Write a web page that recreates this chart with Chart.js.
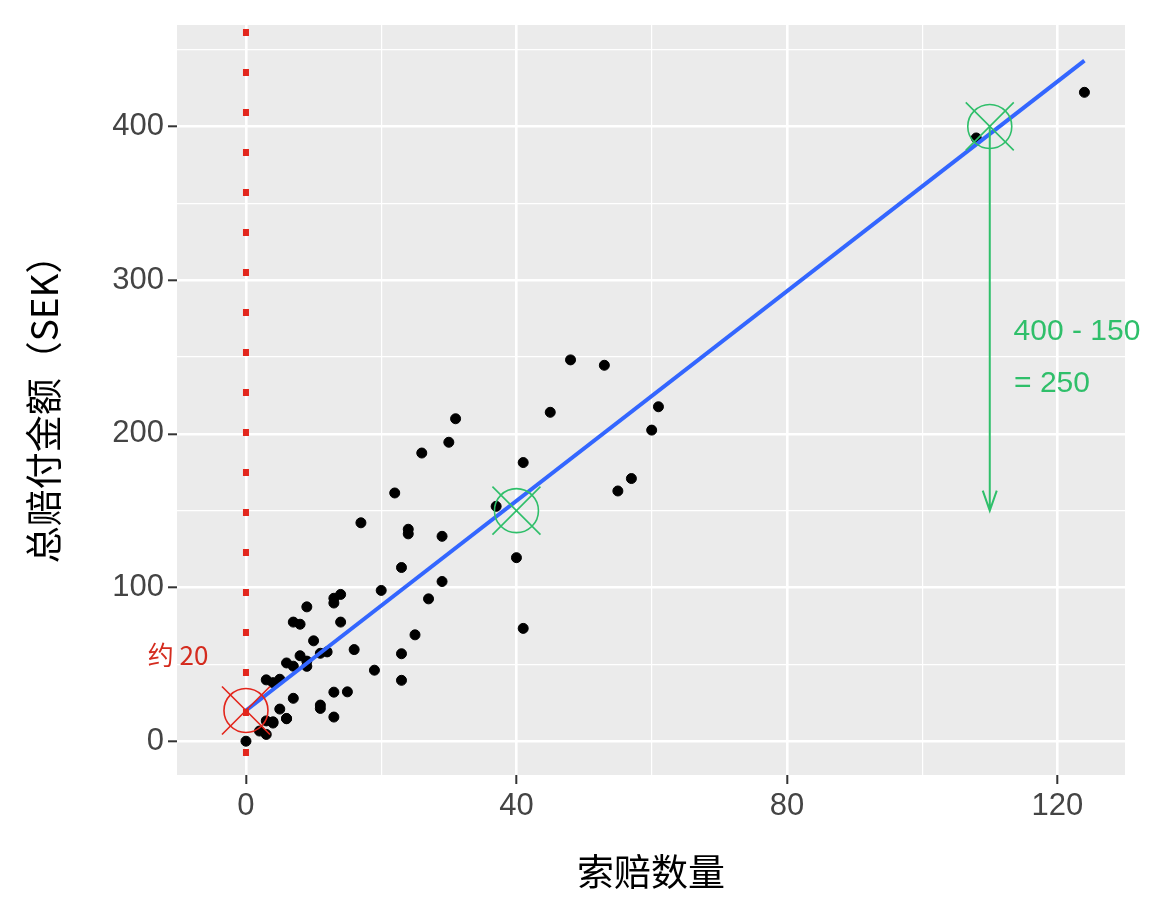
<!DOCTYPE html>
<html><head><meta charset="utf-8">
<script src="https://cdn.jsdelivr.net/npm/chart.js@4/dist/chart.umd.min.js"></script>
<style>html,body{margin:0;padding:0;background:#fff}#w{width:1152px;height:922px}</style>
</head><body><div id="w"><canvas id="c"></canvas></div>
<script>
const claims = [108,19,13,124,40,57,23,14,45,10,5,48,11,23,7,2,24,6,3,23,6,9,9,3,29,7,4,20,7,4,0,25,6,5,22,11,61,12,4,16,13,60,41,37,55,41,11,27,8,3,17,13,13,15,8,29,30,24,9,31,14,53,26];
const payment = [392.5,46.2,15.7,422.2,119.4,170.9,56.9,77.5,214,65.3,20.9,248.1,23.5,39.6,48.8,6.6,134.9,50.9,4.4,113,14.8,48.7,52.1,13.2,103.9,77.5,11.8,98.1,27.9,38.1,0,69.2,14.6,40.3,161.5,57.2,217.6,58.1,12.6,59.6,89.9,202.4,181.3,152.8,162.8,73.4,21.3,92.6,76.1,39.9,142.1,93,31.9,32.1,55.6,133.3,194.5,137.9,87.4,209.8,95.5,244.6,187.5];
const fitLine = [{x:0,y:19.99},{x:124,y:442.8}];
const xTicks = [0,20,40,60,80,100,120];
const yTicks = [-50,0,50,100,150,200,250,300,350,400,450];
const redMark = {x:0,y:20,label:'约 20'};
const greenMarks = [{x:40,y:150},{x:110,y:400}];
const arrow = {x:110,from:400,to:150,lines:['400 - 150','= 250']};

const ann = {id:'ann', afterDatasetsDraw(ch){
  const c=ch.ctx,xs=ch.scales.x,ys=ch.scales.y,a=ch.chartArea;
  c.save();
  c.strokeStyle='#e3261c';c.lineWidth=6;c.setLineDash([7,33]);
  const x0=xs.getPixelForValue(0);
  c.beginPath();c.moveTo(x0,a.top+4);c.lineTo(x0,a.bottom+10);c.stroke();c.setLineDash([]);
  function mark(px,py,col){c.strokeStyle=col;c.lineWidth=1.6;c.beginPath();c.arc(px,py,22,0,Math.PI*2);c.stroke();
    c.beginPath();c.moveTo(px-24,py-24);c.lineTo(px+24,py+24);c.moveTo(px+24,py-24);c.lineTo(px-24,py+24);c.stroke();}
  mark(x0,ys.getPixelForValue(redMark.y),'#e3261c');
  c.fillStyle='#d42b1e';c.font='26px "Noto Sans CJK SC", "DejaVu Sans"';c.textAlign='center';c.textBaseline='middle';
  c.fillText(redMark.label,178,655);
  greenMarks.forEach(m=>mark(xs.getPixelForValue(m.x),ys.getPixelForValue(m.y),'#2fbf6a'));
  const ax=xs.getPixelForValue(arrow.x),ay1=ys.getPixelForValue(arrow.from),ay2=ys.getPixelForValue(arrow.to);
  c.strokeStyle='#2fbf6a';c.lineWidth=2;c.beginPath();c.moveTo(ax,ay1);c.lineTo(ax,ay2);
  c.moveTo(ax-7,ay2-20);c.lineTo(ax,ay2);c.lineTo(ax+7,ay2-20);c.stroke();
  c.fillStyle='#2fbf6a';c.font='30px "Liberation Sans", "DejaVu Sans"';
  c.fillText(arrow.lines[0],1077,332);c.fillText(arrow.lines[1],1052,384);
  c.restore();
}};
const bg={id:'bg',beforeDraw(ch){const a=ch.chartArea,c=ch.ctx;c.save();c.fillStyle='#ebebeb';c.fillRect(a.left,a.top,a.right-a.left,a.bottom-a.top);c.restore();}};
const isMajX=v=>v%40===0, isMajY=v=>v%100===0;
const tf={size:31,family:'"Liberation Sans", "DejaVu Sans"'};
new Chart(document.getElementById('c'),{
  data:{datasets:[
    {type:'line',data:fitLine,borderColor:'#3366ff',borderWidth:4,pointRadius:0,order:1},
    {type:'scatter',data:claims.map((x,i)=>({x,y:payment[i]})),backgroundColor:'#000',borderColor:'#000',pointRadius:5,order:2}
  ]},
  options:{responsive:true,maintainAspectRatio:false,animation:false,
    layout:{padding:{top:25,right:27,left:18,bottom:24}},
    plugins:{legend:{display:false},tooltip:{enabled:false}},
    scales:{
      x:{type:'linear',min:-10.2,max:130,
        afterBuildTicks:s=>{s.ticks=xTicks.map(v=>({value:v}));},
        afterFit:s=>{s.height=123;},
        border:{display:false},
        grid:{color:'#fff',lineWidth:c=>isMajX(c.tick.value)?2.6:1.2,tickLength:9,tickColor:c=>isMajX(c.tick.value)?'#333':'rgba(0,0,0,0)',tickWidth:2},
        ticks:{color:'#444',font:tf,padding:4,callback:v=>isMajX(v)?v:''},
        title:{display:true,text:'索赔数量',color:'#000',font:{size:37,family:'"Noto Sans CJK SC"'},padding:{top:2}}},
      y:{type:'linear',min:-22,max:466,
        afterBuildTicks:s=>{s.ticks=yTicks.map(v=>({value:v}));},
        afterFit:s=>{s.width=159;},
        border:{display:false},
        grid:{color:'#fff',lineWidth:c=>isMajY(c.tick.value)?2.6:1.2,tickLength:9,tickColor:c=>isMajY(c.tick.value)?'#333':'rgba(0,0,0,0)',tickWidth:2},
        ticks:{color:'#444',font:tf,padding:4,callback:v=>(isMajY(v)&&v>=0)?v:''},
        title:{display:true,text:'总赔付金额（SEK）',color:'#000',font:{size:37,family:'"Noto Sans CJK SC"'},padding:{bottom:6}}}
    }},
  plugins:[bg,ann]
});
</script></body></html>
